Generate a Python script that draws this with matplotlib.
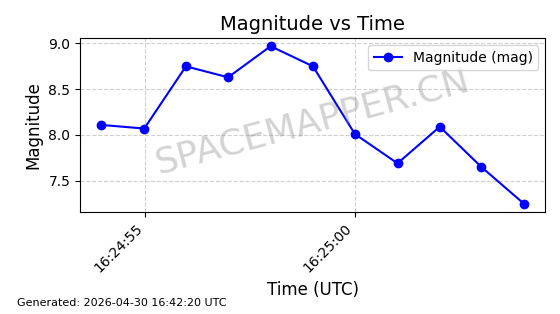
import matplotlib
matplotlib.use("Agg")
import matplotlib.pyplot as plt
import matplotlib.dates as mdates
import pandas as pd

# Observation times (UTC) and magnitudes
times = pd.to_datetime([
    "2026-04-30 16:24:53.950",
    "2026-04-30 16:24:54.976",
    "2026-04-30 16:24:55.970",
    "2026-04-30 16:24:56.976",
    "2026-04-30 16:24:57.990",
    "2026-04-30 16:24:59.000",
    "2026-04-30 16:25:00.000",
    "2026-04-30 16:25:01.017",
    "2026-04-30 16:25:02.024",
    "2026-04-30 16:25:03.017",
    "2026-04-30 16:25:04.040",
])
magnitudes = [8.11, 8.07, 8.75, 8.63, 8.97, 8.75, 8.01, 7.69, 8.09, 7.65, 7.245]

generated = "Generated: 2026-04-30 16:42:20 UTC"

fig = plt.figure(figsize=(5.6, 3.14), dpi=100)
ax = fig.add_axes([0.143, 0.325, 0.831, 0.553])

ax.plot(times, magnitudes, marker="o", color="blue", label="Magnitude (mag)")

ax.xaxis.set_major_locator(mdates.SecondLocator(bysecond=range(0, 60, 5)))
ax.xaxis.set_major_formatter(mdates.DateFormatter("%H:%M:%S"))
plt.setp(ax.get_xticklabels(), rotation=45, ha="right")

ax.set_title("Magnitude vs Time", fontsize=14)
ax.set_xlabel("Time (UTC)", fontsize=12)
ax.set_ylabel("Magnitude", fontsize=12)
ax.grid(True, linestyle="--", alpha=0.6)
ax.legend(loc="upper right")

ax.text(0.5, 0.52, "SPACEMAPPER.CN", transform=ax.transAxes, fontsize=26,
        color="gray", alpha=0.35, rotation=15, ha="center", va="center")

fig.text(0.03, 0.025, generated, fontsize=8)

fig.savefig("out.png", dpi=100)
